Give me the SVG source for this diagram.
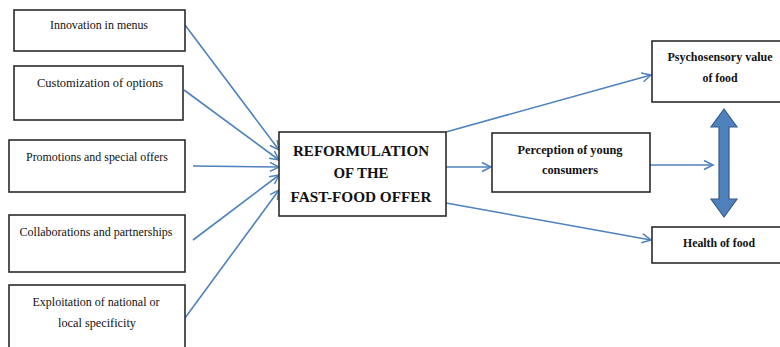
<svg xmlns="http://www.w3.org/2000/svg" width="780" height="347" viewBox="0 0 780 347">
<style>
.box{fill:#fff;stroke:#2b2b2b;stroke-width:1.6}
.t{font-family:"Liberation Serif","Times New Roman",serif;font-size:12px;fill:#111;text-anchor:middle}
.b{font-weight:bold}
.c{font-family:"Liberation Serif","Times New Roman",serif;font-size:15px;font-weight:bold;fill:#111;text-anchor:middle}
.ln{stroke:#4f81bd;stroke-width:1.6;fill:none;marker-end:url(#ah)}
</style>
<defs>
<marker id="ah" markerUnits="userSpaceOnUse" markerWidth="12" markerHeight="12" refX="10" refY="5" orient="auto" viewBox="0 0 12 10">
<path d="M1,0.5 L10,5 L1,9.5" fill="none" stroke="#4f81bd" stroke-width="1.5"/>
</marker>
</defs>
<rect width="780" height="347" fill="#fff"/>
<g id="connectors">
<line class="ln" x1="185" y1="25" x2="279" y2="150"/>
<line class="ln" x1="184" y1="90" x2="279" y2="160"/>
<line class="ln" x1="193" y1="166" x2="279" y2="167"/>
<line class="ln" x1="193" y1="240" x2="279" y2="175"/>
<line class="ln" x1="185" y1="318" x2="279" y2="190"/>
<line class="ln" x1="446" y1="132" x2="651" y2="75"/>
<line class="ln" x1="446" y1="167" x2="491" y2="167"/>
<line class="ln" x1="446" y1="203" x2="651" y2="240"/>
<line class="ln" x1="650" y1="165" x2="713" y2="165"/>
</g>
<g id="n1"><rect class="box" x="14" y="10" width="171" height="41"/><text class="t" x="99" y="29" textLength="98" lengthAdjust="spacingAndGlyphs">Innovation in menus</text></g>
<g id="n2"><rect class="box" x="14" y="66" width="169" height="54"/><text class="t" x="100" y="87" textLength="126" lengthAdjust="spacingAndGlyphs">Customization of options</text></g>
<g id="n3"><rect class="box" x="9" y="140" width="176" height="52"/><text class="t" x="97" y="161" textLength="142" lengthAdjust="spacingAndGlyphs">Promotions and special offers</text></g>
<g id="n4"><rect class="box" x="9" y="215" width="176" height="57"/><text class="t" x="96" y="236" textLength="153" lengthAdjust="spacingAndGlyphs">Collaborations and partnerships</text></g>
<g id="n5"><rect class="box" x="9" y="285" width="176" height="64"/><text class="t" x="96" y="306" textLength="127" lengthAdjust="spacingAndGlyphs">Exploitation of national or</text><text class="t" x="97" y="327" textLength="78" lengthAdjust="spacingAndGlyphs">local specificity</text></g>
<g id="center"><rect class="box" x="279" y="132" width="167" height="84"/>
<text class="c" x="361" y="156" textLength="136" lengthAdjust="spacingAndGlyphs">REFORMULATION</text>
<text class="c" x="361" y="178" textLength="55" lengthAdjust="spacingAndGlyphs">OF THE</text>
<text class="c" x="361" y="202" textLength="141" lengthAdjust="spacingAndGlyphs">FAST-FOOD OFFER</text></g>
<g id="perception"><rect class="box" x="492" y="133" width="158" height="59"/><text class="t b" x="570" y="154" textLength="105" lengthAdjust="spacingAndGlyphs">Perception of young</text><text class="t b" x="570" y="174" textLength="56" lengthAdjust="spacingAndGlyphs">consumers</text></g>
<g id="psycho"><rect class="box" x="652" y="41" width="140" height="61"/><text class="t b" x="720" y="61" textLength="105" lengthAdjust="spacingAndGlyphs">Psychosensory value</text><text class="t b" x="720" y="82" textLength="35" lengthAdjust="spacingAndGlyphs">of food</text></g>
<g id="health"><rect class="box" x="652" y="227" width="140" height="36"/><text class="t b" x="719" y="247" textLength="72" lengthAdjust="spacingAndGlyphs">Health of food</text></g>
<g id="double-arrow"><polygon points="724,109 737,127 729,127 729,199 737,199 724,217 711,199 719,199 719,127 711,127" fill="#4f81bd" stroke="#385d8a" stroke-width="1.2"/></g>
</svg>
